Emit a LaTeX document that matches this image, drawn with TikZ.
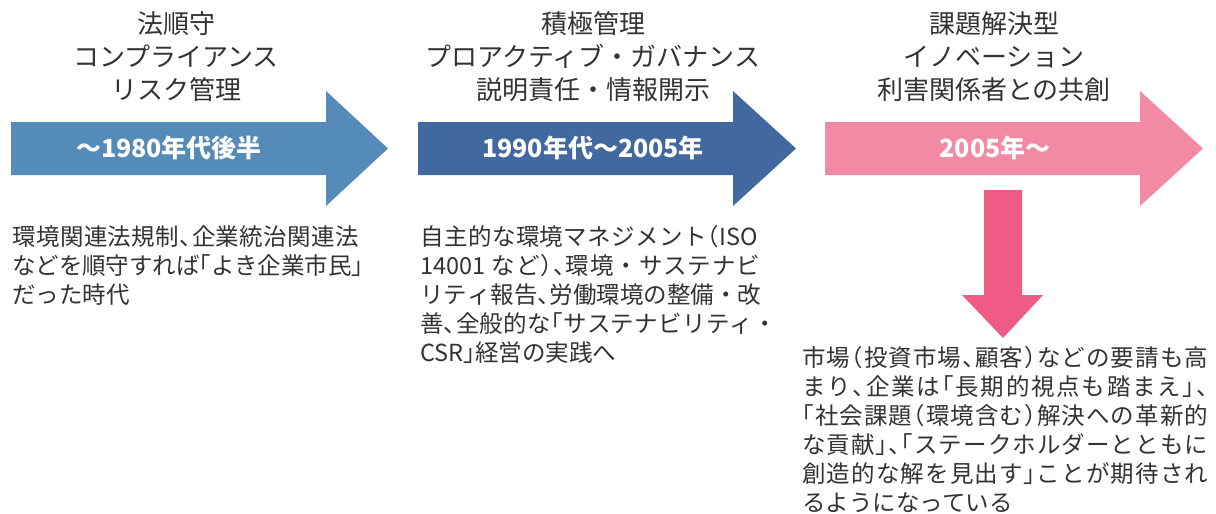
\documentclass[tikz,border=0pt]{standalone}
\usepackage{fontspec}
\newfontfamily\jp{Noto Sans CJK JP}
\newfontfamily\jph[RawFeature=+halt]{Noto Sans CJK JP}
\definecolor{c1}{HTML}{558BB9}
\definecolor{c2}{HTML}{4169A0}
\definecolor{c3}{HTML}{F38AA5}
\definecolor{c4}{HTML}{F05A87}
\definecolor{txt}{HTML}{333333}
% justified line: spreads characters evenly over the given width
\newcommand\jline[2]{\hbox to #1{\jlfirst#2\relax}}
\def\jlfirst#1{#1\jlnext}
\def\jlnext#1{\ifx\relax#1\else\hskip0pt plus 1fil minus 1pt#1\expandafter\jlnext\fi}
\newcommand\nk{{\jp ・}}
\begin{document}
\begin{tikzpicture}[x=1pt,y=-1pt,
  head/.style={align=center,font=\jp\fontsize{26}{33}\selectfont,text=txt,inner sep=0pt},
  body/.style={align=left,anchor=north west,font=\jph\fontsize{23.5}{29}\selectfont,text=txt,inner sep=0pt},
  lab/.style={font=\jp\bfseries\fontsize{25}{30}\selectfont,text=white,inner sep=0pt}]
\useasboundingbox[fill=white] (0,0) rectangle (1216,514);
% arrows
\fill[c1] (11,122) -- (326,122) -- (326,91) -- (388,148.5) -- (326,206) -- (326,175) -- (11,175) -- cycle;
\fill[c2] (418,122) -- (733,122) -- (733,91) -- (796,148.5) -- (733,206) -- (733,175) -- (418,175) -- cycle;
\fill[c3] (825,122) -- (1140,122) -- (1140,91) -- (1203,148.5) -- (1140,206) -- (1140,175) -- (825,175) -- cycle;
\fill[c4] (984,190) -- (1022,190) -- (1022,295) -- (1043,295) -- (1003,338) -- (962,295) -- (984,295) -- cycle;
% labels
\node[lab] (l1) at (169,148) {～1980年代後半};
\node[lab] (l2) at (593,148) {1990年代～2005年};
\node[lab] (l3) at (995,148) {2005年～};
% headings
\node[head] (h1) at (176,57) {法順守\\コンプライアンス\\リスク管理};
\node[head] (h2) at (593,57) {積極管理\\プロアクティブ・ガバナンス\\説明責任・情報開示};
\node[head] (h3) at (994,57) {課題解決型\\イノベーション\\利害関係者との共創};
% body texts
\node[body] (t1) at (12,225) {\jline{347pt}{環境関連法規制、企業統治関連法}\\
  \jline{351pt}{などを順守すれば「よき企業市民」}\\
  だった時代};
\node[body] (t2) at (420,225) {\jline{338pt}{自主的な環境マネジメント（{ISO}}\\
  \jline{340pt}{{14001 }など）、環境\nk サステナビ}\\
  \jline{341pt}{リティ報告、労働環境の整備\nk 改}\\
  \jline{357pt}{善、全般的な「サステナビリティ\nk}\\
  {CSR}」経営の実践へ};
\node[body] (t3) at (802,346) {\jline{406pt}{市場（投資市場、顧客）などの要請も高}\\
  \jline{406pt}{まり、企業は「長期的視点も踏まえ」、}\\
  \jline{406pt}{「社会課題（環境含む）解決への革新的}\\
  \jline{406pt}{な貢献」、「ステークホルダーとともに}\\
  \jline{406pt}{創造的な解を見出す」ことが期待され}\\
  るようになっている};
\end{tikzpicture}
\end{document}
